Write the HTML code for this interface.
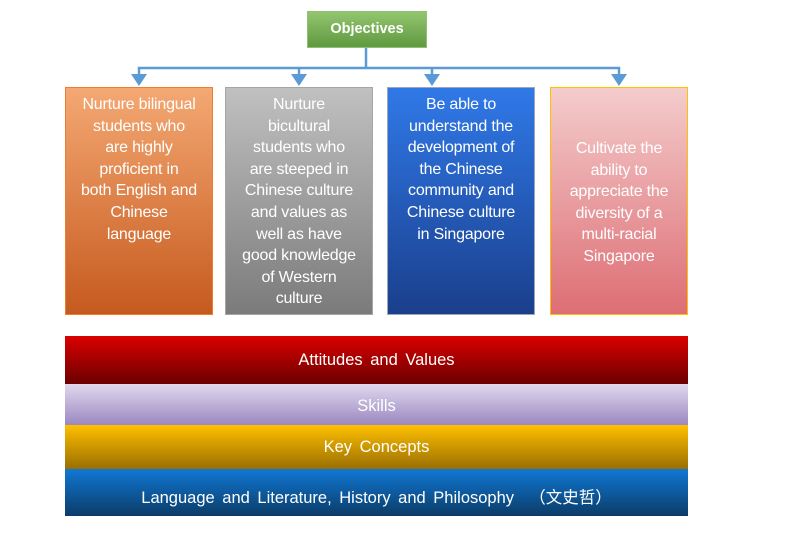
<!DOCTYPE html>
<html><head><meta charset="utf-8"><style>
body{margin:0;width:787px;height:538px;background:#fff;position:relative;overflow:hidden;font-family:"Liberation Sans","Noto Sans CJK SC",sans-serif;}
.b{position:absolute;box-sizing:border-box;color:#fff;text-align:center;font-size:16px;line-height:21.6px;padding-top:6px;white-space:nowrap;letter-spacing:-0.2px;}
.band{position:absolute;left:65px;width:623px;color:#fff;text-align:center;font-size:16.5px;word-spacing:3px;}
</style></head><body>
<div style="position:absolute;left:307px;top:11px;width:120px;height:37px;box-sizing:border-box;border:1px solid #8fc073;background:linear-gradient(#93c56f,#5f9940);color:#fff;font-weight:bold;font-size:14.5px;text-align:center;line-height:35px;">Objectives</div>
<svg style="position:absolute;left:0;top:0" width="787" height="100">
<g stroke="#5b9bd5" stroke-width="2.5" fill="none">
<line x1="366" y1="48" x2="366" y2="69"/>
<polyline points="139,77 139,68 619,68 619,77"/>
<line x1="299" y1="68" x2="299" y2="77"/>
<line x1="432" y1="68" x2="432" y2="77"/>
</g>
<g fill="#5b9bd5">
<polygon points="131,74 147,74 139,86"/>
<polygon points="291,74 307,74 299,86"/>
<polygon points="424,74 440,74 432,86"/>
<polygon points="611,74 627,74 619,86"/>
</g></svg>
<div class="b" style="left:65px;top:87px;width:148px;height:228px;border:1.5px solid #ed7d31;background:linear-gradient(#f4a873,#c65a1e);">Nurture bilingual<br>students who<br>are highly<br>proficient in<br>both English and<br>Chinese<br>language</div>
<div class="b" style="left:225px;top:87px;width:148px;height:228px;border:1.5px solid #a5a5a5;background:linear-gradient(#c0c0c0,#7b7b7b);">Nurture<br>bicultural<br>students who<br>are steeped in<br>Chinese culture<br>and values as<br>well as have<br>good knowledge<br>of Western<br>culture</div>
<div class="b" style="left:387px;top:87px;width:148px;height:228px;border:1.5px solid #9aa7b8;background:linear-gradient(#3079e8,#1a3f8c);">Be able to<br>understand the<br>development of<br>the Chinese<br>community and<br>Chinese culture<br>in Singapore</div>
<div class="b" style="left:550px;top:87px;width:138px;height:228px;border:1.5px solid #ffc000;background:linear-gradient(#f4cccc,#dd6e74);padding-top:50px;">Cultivate the<br>ability to<br>appreciate the<br>diversity of a<br>multi-racial<br>Singapore</div>
<div class="band" style="top:336px;height:48px;line-height:48px;background:linear-gradient(#db0000,#6b0000);">Attitudes and Values</div>
<div class="band" style="top:384px;height:41px;line-height:45px;background:linear-gradient(#e0d8ee,#9a88c0);">Skills</div>
<div class="band" style="top:425px;height:44px;line-height:45px;background:linear-gradient(#ffc000,#9a6e00);">Key Concepts</div>
<div class="band" style="top:469px;height:47px;line-height:58px;background:linear-gradient(#1078d4,#0b3c68);">Language and Literature, History and Philosophy &nbsp;（文史哲）</div>
</body></html>
